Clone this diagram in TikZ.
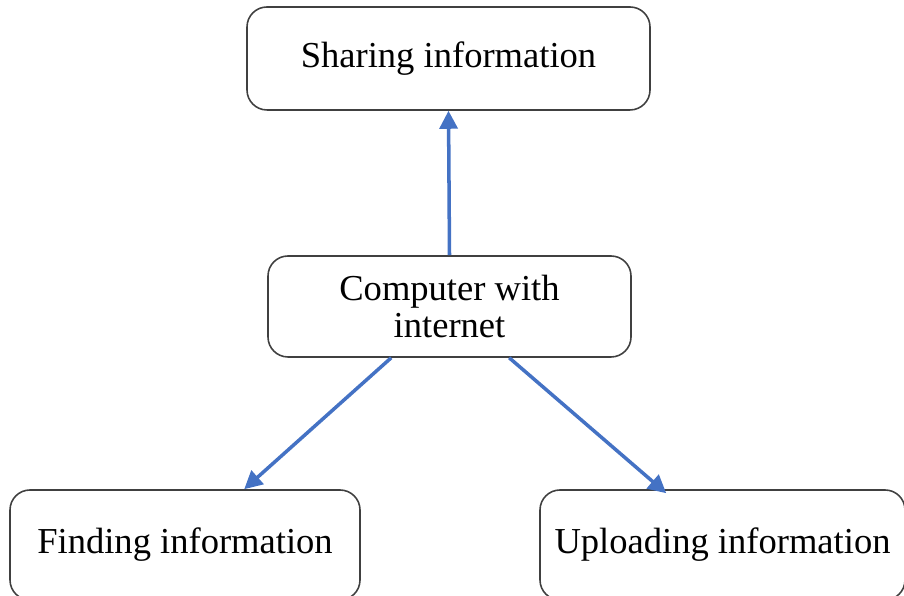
\documentclass[tikz,border=0pt]{standalone}
\usepackage{fontspec}
\setmainfont{Liberation Serif}
\usetikzlibrary{arrows.meta,calc}

\tikzset{
  infobox/.style={draw=black!75, line width=0.45pt, rounded corners=0.2cm,
    align=center, inner sep=0pt, font=\fontsize{10.4}{10.6}\selectfont},
  flow/.style={color={rgb,255:red,68;green,114;blue,196},
    line width=1pt, -{Triangle[length=0.18cm,width=0.18cm]}}
}

\begin{document}
\begin{tikzpicture}
\useasboundingbox (0,0) rectangle (9.04,5.96);
% Boxes
\node[infobox, minimum width=4.03cm, minimum height=1.03cm] (share) at (4.485,5.375) {Sharing information};
\node[infobox, minimum width=3.63cm, minimum height=1.01cm] (comp) at (4.495,2.895) {Computer with\\internet};
\node[infobox, minimum width=3.50cm, minimum height=1.10cm] (find) at (1.85,0.51) {Finding information};
\node[infobox, minimum width=3.65cm, minimum height=1.10cm] (upload) at (7.225,0.51) {Uploading information};
% Arrows
\draw[flow] (comp.north) -- (share.south);
\draw[flow] ([xshift=1.24cm]comp.south west) -- ([xshift=2.35cm]find.north west);
\draw[flow] ([xshift=2.42cm]comp.south west) -- ([xshift=1.27cm,yshift=-0.04cm]upload.north west);
\end{tikzpicture}
\end{document}
